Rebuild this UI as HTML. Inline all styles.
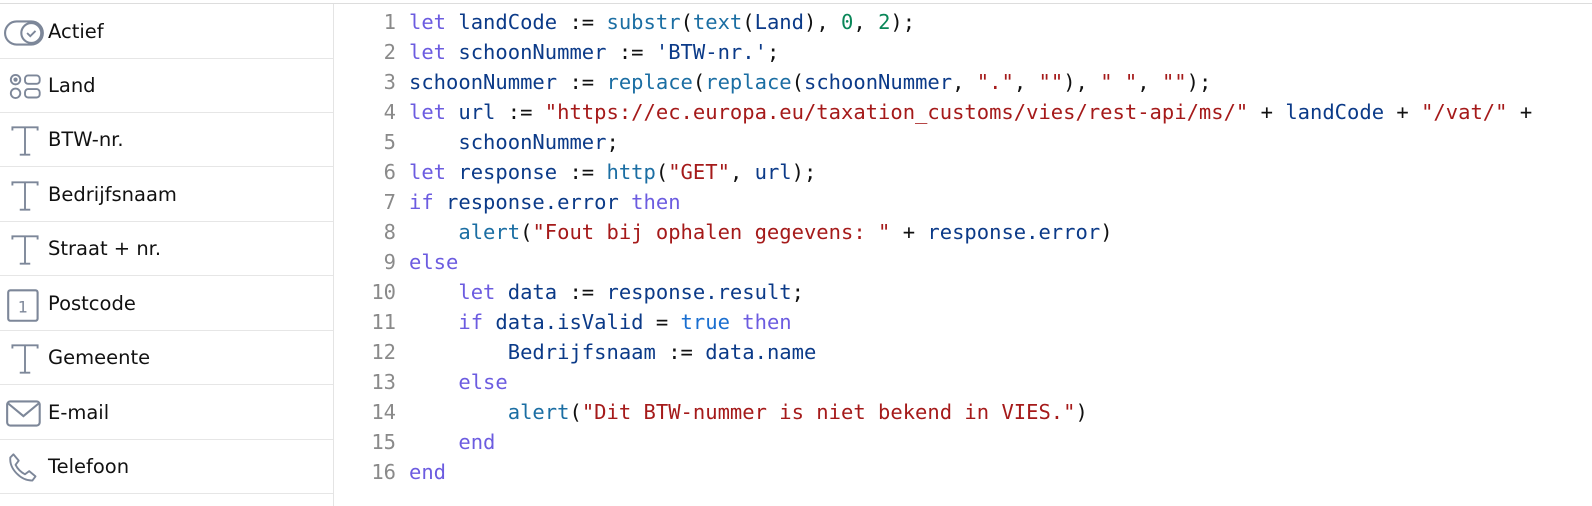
<!DOCTYPE html>
<html><head><meta charset="utf-8"><style>
html,body{margin:0;padding:0;background:#fff;width:1592px;height:506px;overflow:hidden;position:relative}
.top{position:absolute;left:0;top:3px;width:1592px;height:1px;background:#ddd}
.side{position:absolute;left:0;top:4px;width:333px;height:502px;border-right:1px solid #e4e4e4}
.row{position:absolute;left:0;width:333px;height:54px;border-bottom:1px solid #e6e6e6;font-family:"DejaVu Sans","Liberation Sans",sans-serif;font-size:19.5px;color:#111}
.row span{position:absolute;left:48px;top:16px}
.row svg{position:absolute;left:4px;top:12px}
.code{position:absolute;left:0;top:1px;font-family:"DejaVu Sans Mono","Liberation Mono",monospace;font-size:20.5px;white-space:pre}
.ln{position:absolute;width:396px;text-align:right;color:#8a8a8a;left:0}
.l{position:absolute;left:409px;color:#111}
.k{color:#6c5ce0}.i{color:#0b3a88}.f{color:#1b6ea3}.s{color:#a51a1a}.n{color:#098658}.t{color:#1a6fd0}
</style></head><body>
<div class="top"></div>
<div class="side">
<div class="row" style="top:0"><svg width="42" height="34" viewBox="0 0 40 32"><rect x="1" y="5" width="36" height="22" rx="11" fill="none" stroke="#7d8799" stroke-width="2"/><circle cx="26" cy="16" r="9.5" fill="none" stroke="#7d8799" stroke-width="2"/><path d="M22 16l3 3 5-5" fill="none" stroke="#7d8799" stroke-width="1.8"/></svg><span>Actief</span></div>
<div class="row" style="top:54px"><svg width="42" height="34" viewBox="0 0 40 32"><circle cx="11" cy="9" r="4.5" fill="none" stroke="#7d8799" stroke-width="1.8"/><circle cx="11" cy="9" r="2" fill="#7d8799"/><circle cx="11" cy="22" r="4.5" fill="none" stroke="#7d8799" stroke-width="1.8"/><rect x="20" y="5" width="14" height="8" rx="3" fill="none" stroke="#7d8799" stroke-width="1.8"/><rect x="20" y="18" width="14" height="8" rx="3" fill="none" stroke="#7d8799" stroke-width="1.8"/></svg><span>Land</span></div>
<div class="row" style="top:108px"><svg width="42" height="34" viewBox="0 0 40 32"><path d="M8 6V3h24v3M20 3v26M15 29h10" fill="none" stroke="#7d8799" stroke-width="1.8"/></svg><span>BTW-nr.</span></div>
<div class="row" style="top:163px"><svg width="42" height="34" viewBox="0 0 40 32"><path d="M8 6V3h24v3M20 3v26M15 29h10" fill="none" stroke="#7d8799" stroke-width="1.8"/></svg><span>Bedrijfsnaam</span></div>
<div class="row" style="top:217px"><svg width="42" height="34" viewBox="0 0 40 32"><path d="M8 6V3h24v3M20 3v26M15 29h10" fill="none" stroke="#7d8799" stroke-width="1.8"/></svg><span>Straat + nr.</span></div>
<div class="row" style="top:272px"><svg width="42" height="34" viewBox="0 0 40 32"><rect x="4" y="2" width="28" height="29" rx="2" fill="none" stroke="#7d8799" stroke-width="2"/><text x="18" y="23" text-anchor="middle" font-family="DejaVu Sans" font-size="15" fill="#7d8799">1</text></svg><span>Postcode</span></div>
<div class="row" style="top:326px"><svg width="42" height="34" viewBox="0 0 40 32"><path d="M8 6V3h24v3M20 3v26M15 29h10" fill="none" stroke="#7d8799" stroke-width="1.8"/></svg><span>Gemeente</span></div>
<div class="row" style="top:381px"><svg width="42" height="34" viewBox="0 0 40 32"><rect x="3" y="4" width="31" height="23" rx="3" fill="none" stroke="#7d8799" stroke-width="2"/><path d="M4 6l14.5 12L33 6" fill="none" stroke="#7d8799" stroke-width="2"/></svg><span>E-mail</span></div>
<div class="row" style="top:435px"><svg width="42" height="34" viewBox="0 0 40 32"><path d="M9 3l5 6-3 4c2 4 5 7 9 9l4-3 6 5-3 4C16 28 5 17 6 6z" fill="none" stroke="#7d8799" stroke-width="1.8" stroke-linejoin="round"/></svg><span>Telefoon</span></div>
</div>
<div class="code">
<div class="ln" style="top:9px">1</div><div class="l" style="top:9px"><span class="k">let</span> <span class="i">landCode</span> := <span class="f">substr</span>(<span class="f">text</span>(<span class="i">Land</span>), <span class="n">0</span>, <span class="n">2</span>);</div>
<div class="ln" style="top:39px">2</div><div class="l" style="top:39px"><span class="k">let</span> <span class="i">schoonNummer</span> := <span class="i">'BTW-nr.'</span>;</div>
<div class="ln" style="top:69px">3</div><div class="l" style="top:69px"><span class="i">schoonNummer</span> := <span class="f">replace</span>(<span class="f">replace</span>(<span class="i">schoonNummer</span>, <span class="s">"."</span>, <span class="s">""</span>), <span class="s">" "</span>, <span class="s">""</span>);</div>
<div class="ln" style="top:99px">4</div><div class="l" style="top:99px"><span class="k">let</span> <span class="i">url</span> := <span class="s">"https://ec.europa.eu/taxation_customs/vies/rest-api/ms/"</span> + <span class="i">landCode</span> + <span class="s">"/vat/"</span> +</div>
<div class="ln" style="top:129px">5</div><div class="l" style="top:129px">    <span class="i">schoonNummer</span>;</div>
<div class="ln" style="top:159px">6</div><div class="l" style="top:159px"><span class="k">let</span> <span class="i">response</span> := <span class="f">http</span>(<span class="s">"GET"</span>, <span class="i">url</span>);</div>
<div class="ln" style="top:189px">7</div><div class="l" style="top:189px"><span class="k">if</span> <span class="i">response.error</span> <span class="k">then</span></div>
<div class="ln" style="top:219px">8</div><div class="l" style="top:219px">    <span class="f">alert</span>(<span class="s">"Fout bij ophalen gegevens: "</span> + <span class="i">response.error</span>)</div>
<div class="ln" style="top:249px">9</div><div class="l" style="top:249px"><span class="k">else</span></div>
<div class="ln" style="top:279px">10</div><div class="l" style="top:279px">    <span class="k">let</span> <span class="i">data</span> := <span class="i">response.result</span>;</div>
<div class="ln" style="top:309px">11</div><div class="l" style="top:309px">    <span class="k">if</span> <span class="i">data.isValid</span> = <span class="t">true</span> <span class="k">then</span></div>
<div class="ln" style="top:339px">12</div><div class="l" style="top:339px">        <span class="i">Bedrijfsnaam</span> := <span class="i">data.name</span></div>
<div class="ln" style="top:369px">13</div><div class="l" style="top:369px">    <span class="k">else</span></div>
<div class="ln" style="top:399px">14</div><div class="l" style="top:399px">        <span class="f">alert</span>(<span class="s">"Dit BTW-nummer is niet bekend in VIES."</span>)</div>
<div class="ln" style="top:429px">15</div><div class="l" style="top:429px">    <span class="k">end</span></div>
<div class="ln" style="top:459px">16</div><div class="l" style="top:459px"><span class="k">end</span></div>
</div>
</body></html>
